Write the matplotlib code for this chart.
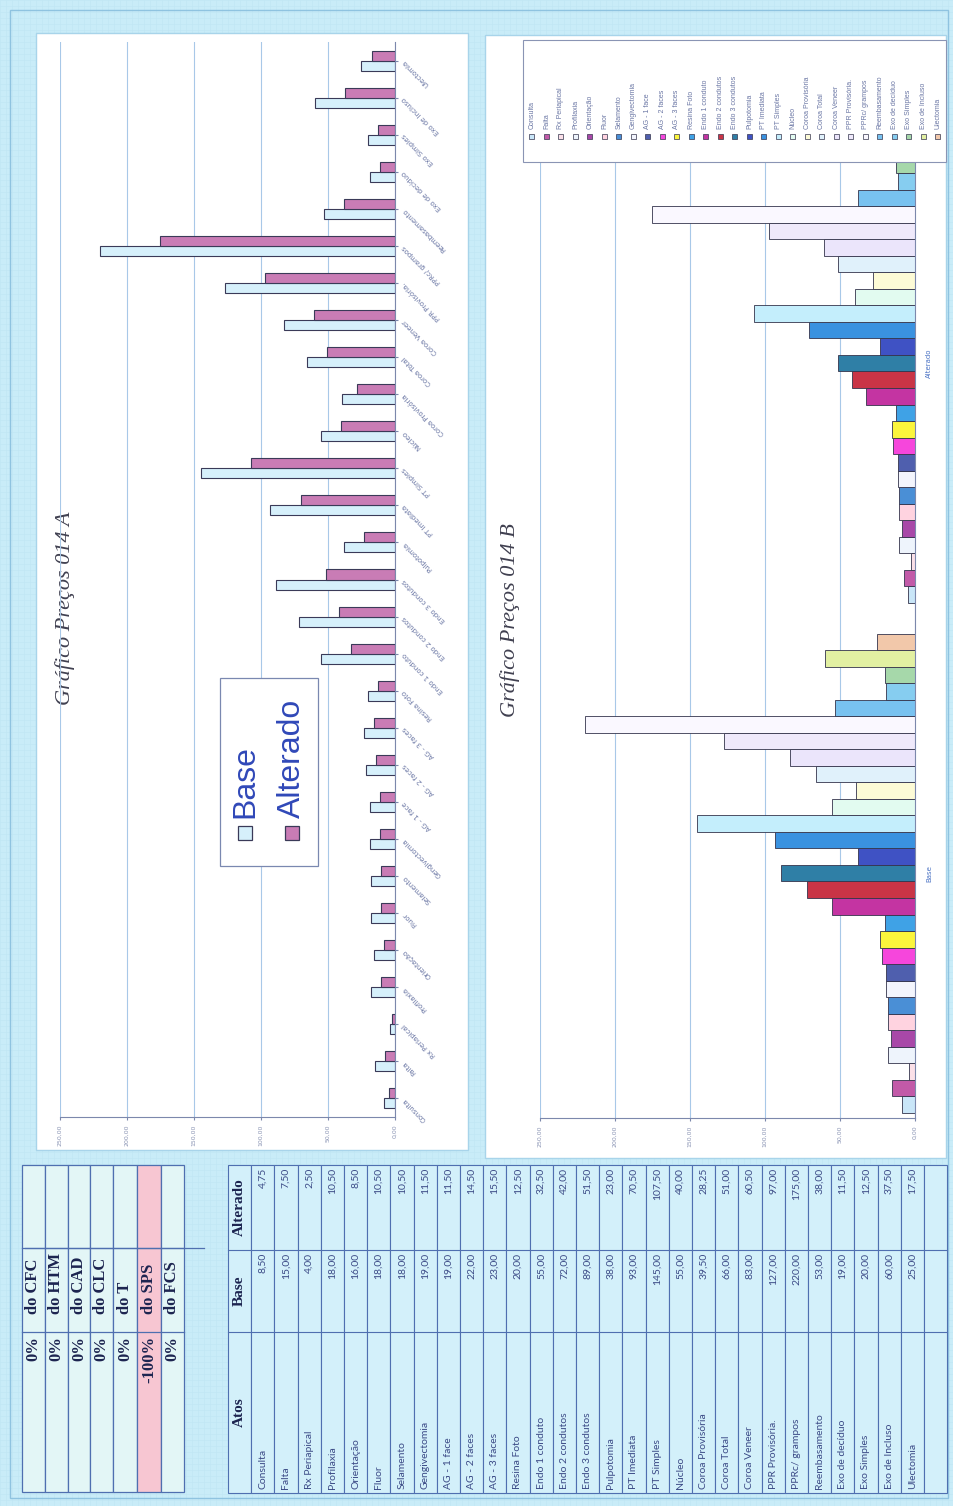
import matplotlib
matplotlib.use('Agg')
import matplotlib.pyplot as plt
from matplotlib.patches import Rectangle
import numpy as np

# dados da tabela
atos = ['Consulta', 'Falta', 'Rx Periapical', 'Profilaxia', 'Orientação', 'Fluor',
        'Selamento', 'Gengivectomia', 'AG - 1 face', 'AG - 2 faces', 'AG - 3 faces',
        'Resina Foto', 'Endo 1 conduto', 'Endo 2 condutos', 'Endo 3 condutos',
        'Pulpotomia', 'PT Imediata', 'PT Simples', 'Núcleo', 'Coroa Provisória',
        'Coroa Total', 'Coroa Veneer', 'PPR Provisória.', 'PPRc/ grampos',
        'Reembasamento', 'Exo de decíduo', 'Exo Simples', 'Exo de Incluso', 'Ulectomia']
base = [8.5, 15, 4, 18, 16, 18, 18, 19, 19, 22, 23, 20, 55, 72, 89, 38, 93, 145,
        55, 39.5, 66, 83, 127, 220, 53, 19, 20, 60, 25]
alterado = [4.75, 7.5, 2.5, 10.5, 8.5, 10.5, 10.5, 11.5, 11.5, 14.5, 15.5, 12.5,
            32.5, 42, 51.5, 23, 70.5, 107.5, 40, 28.25, 51, 60.5, 97, 175, 38,
            11.5, 12.5, 37.5, 17.5]
grupos = ['Base', 'Alterado']
siglas = ['CFC', 'HTM', 'CAD', 'CLC', 'T', 'SPS', 'FCS']
percentuais = ['0%', '0%', '0%', '0%', '0%', '-100%', '0%']
ticks = [0, 50, 100, 150, 200, 250]

# cores das series do grafico B (como aparecem no papel)
cores = ['#c9e6f8', '#c25aa8', '#fbe0e8', '#eef4fc', '#a848a8', '#ffd3e0',
         '#4a8fd6', '#f3f5fd', '#4f5fae', '#f646dc', '#fbf53c', '#3fa2e6',
         '#c434a2', '#c93446', '#2f7fa6', '#3f52c4', '#3a92e0', '#c4eefc',
         '#e2fbf0', '#fdfbd6', '#e0f1fb', '#ebe5fb', '#efe9fb', '#faf8ff',
         '#78c2f0', '#86cdf0', '#a6d8aa', '#e2f0a2', '#f2c8aa']

W, H = 954, 1506
fundo = '#c9ecf8'
azul_txt = '#3b4a86'


def fb(x0, y0, x1, y1):
    return [x0 / W, 1 - y1 / H, (x1 - x0) / W, (y1 - y0) / H]


def br(v):
    return f'{v:.2f}'.replace('.', ',')


fig = plt.figure(figsize=(W / 100, H / 100), dpi=100, facecolor=fundo)

# camada de fundo em pixels
bg = fig.add_axes([0, 0, 1, 1], zorder=0)
bg.set_xlim(0, W)
bg.set_ylim(H, 0)
bg.axis('off')
# textura leve do papel (por baixo de tudo)
for g in np.arange(0, W, 6):
    bg.plot([g, g], [0, H], color='#c0e6f4', lw=0.4, zorder=0.1)
for g in np.arange(0, H, 6):
    bg.plot([0, W], [g, g], color='#c0e6f4', lw=0.4, zorder=0.1)
bg.add_patch(Rectangle((10, 10), 938, 1488, fc='none', ec='#8fc3e0', lw=1, zorder=1))
bg.add_patch(Rectangle((36, 33), 432, 1117, fc='white', ec='#a8d4ea', lw=1, zorder=1))
bg.add_patch(Rectangle((485, 35), 461, 1123, fc='white', ec='#a8d4ea', lw=1, zorder=1))

# titulos
bg.text(65, 608, 'Gráfico Preços 014 A', rotation=90, ha='center', va='center',
        fontsize=16, family='Liberation Serif', style='italic', color='#404050', zorder=2)
bg.text(510, 620, 'Gráfico Preços 014 B', rotation=90, ha='center', va='center',
        fontsize=16, family='Liberation Serif', style='italic', color='#404050', zorder=2)

# tabela de percentuais
lin = [22, 45, 68, 90, 113, 137, 161, 184]
col = [1165, 1248, 1332, 1492]
for k in range(len(siglas)):
    cor = '#f7c6d2' if percentuais[k] == '-100%' else '#e3f6f6'
    bg.add_patch(Rectangle((lin[k], col[0]), lin[k + 1] - lin[k], col[-1] - col[0],
                           fc=cor, ec='#4f6fb0', lw=0.9, zorder=1))
    xc = (lin[k] + lin[k + 1]) / 2
    bg.text(xc, col[2] + 4, percentuais[k], rotation=90, rotation_mode='anchor',
            ha='right', va='center', fontsize=12, family='Liberation Serif',
            weight='bold', color='#1c2450', zorder=3)
    bg.text(xc, col[2] - 18, 'do ' + siglas[k], rotation=90, rotation_mode='anchor',
            ha='left', va='center', fontsize=12, family='Liberation Serif',
            weight='bold', color='#1c2450', zorder=3)
for c in col[1:-1]:
    bg.plot([lin[0], lin[-1]], [c, c], color='#4f6fb0', lw=0.9, zorder=2)
bg.plot([lin[0] + 3, lin[-1] + 20], [1248, 1248], color='#4f6fb0', lw=0.9, zorder=2)

# tabela principal
h = 23.2
x0 = 228
mcol = [1165, 1250, 1332, 1493]
nlin = len(atos) + 2
for r in range(nlin):
    bg.add_patch(Rectangle((x0 + r * h, mcol[0]), h, mcol[-1] - mcol[0],
                           fc='#d3f0fa', ec='#4f6fb0', lw=0.8, zorder=1))
for c in mcol[1:-1]:
    bg.plot([x0, x0 + nlin * h], [c, c], color='#4f6fb0', lw=0.8, zorder=2)
xc = x0 + h / 2
for texto, yc in [('Atos', (mcol[2] + mcol[3]) / 2), ('Base', (mcol[1] + mcol[2]) / 2),
                  ('Alterado', (mcol[0] + mcol[1]) / 2)]:
    bg.text(xc, yc, texto, rotation=90, ha='center', va='center', fontsize=11,
            family='Liberation Serif', weight='bold', color='#1c2450', zorder=3)
for i, nome in enumerate(atos):
    xc = x0 + (i + 1) * h + h / 2
    bg.text(xc, mcol[3] - 4, nome, rotation=90, rotation_mode='anchor', ha='left',
            va='center', fontsize=7.5, family='Lato', color=azul_txt, zorder=3)
    bg.text(xc, mcol[1] + 3, br(base[i]), rotation=90, rotation_mode='anchor',
            ha='right', va='center', fontsize=7.5, family='Lato', color=azul_txt, zorder=3)
    bg.text(xc, mcol[0] + 3, br(alterado[i]), rotation=90, rotation_mode='anchor',
            ha='right', va='center', fontsize=7.5, family='Lato', color=azul_txt, zorder=3)

# ---------- grafico A ----------
ax_a = fig.add_axes(fb(60, 42, 395, 1117), zorder=2)
ax_a.patch.set_alpha(0)
y = np.arange(len(atos))
w = 0.27
ax_a.barh(y - w / 2, base, height=w, color='#d6f0fb', edgecolor='#3a3a58', lw=0.8)
ax_a.barh(y + w / 2, alterado, height=w, color='#c97cb5', edgecolor='#3a3a58', lw=0.8)
ax_a.set_xlim(250, 0)
ax_a.set_ylim(-0.5, len(atos) - 0.5)
ax_a.set_xticks(ticks)
ax_a.set_xticklabels([br(t) for t in ticks], rotation=90, fontsize=4.5, color='#8a94b4')
ax_a.grid(axis='x', color='#a8c8e8', lw=0.8)
ax_a.set_axisbelow(True)
for s in ['top', 'left']:
    ax_a.spines[s].set_visible(False)
for s in ['right', 'bottom']:
    ax_a.spines[s].set_color('#7c88ac')
ax_a.yaxis.tick_right()
ax_a.set_yticks(y)
ax_a.set_yticklabels(atos)
ax_a.tick_params(axis='y', length=2, color='#7c88ac', pad=4)
ax_a.tick_params(axis='x', length=2, color='#7c88ac')
for t in ax_a.get_yticklabels():
    t.set_rotation(135)
    t.set_rotation_mode('anchor')
    t.set_ha('right')
    t.set_va('center')
    t.set_fontsize(5)
    t.set_color('#6a76a4')

# ---------- grafico B ----------
ax_b = fig.add_axes(fb(540, 98, 915, 1118), zorder=2)
ax_b.patch.set_alpha(0)
bw = 0.0324
pos = np.arange(len(grupos))
for i, nome in enumerate(atos):
    ax_b.barh(pos + (i - 14) * bw, [base[i], alterado[i]], height=bw,
              color=cores[i], edgecolor='#34344c', lw=0.6, label=nome)
ax_b.set_xlim(250, 0)
ax_b.set_ylim(-0.48, 1.52)
ax_b.set_xticks(ticks)
ax_b.set_xticklabels([br(t) for t in ticks], rotation=90, fontsize=4.5, color='#8a94b4')
ax_b.grid(axis='x', color='#a8c8e8', lw=0.8)
ax_b.set_axisbelow(True)
for s in ['top', 'left']:
    ax_b.spines[s].set_visible(False)
for s in ['right', 'bottom']:
    ax_b.spines[s].set_color('#7c88ac')
ax_b.yaxis.tick_right()
ax_b.set_yticks(pos)
ax_b.set_yticklabels(grupos, rotation=90, fontsize=5, color='#4a72c4', va='center')
ax_b.tick_params(axis='y', length=0, pad=8)
ax_b.tick_params(axis='x', length=2, color='#7c88ac')

# legendas (camada da frente)
fg = fig.add_axes([0, 0, 1, 1], zorder=5)
fg.set_xlim(0, W)
fg.set_ylim(H, 0)
fg.axis('off')

# legenda A
fg.add_patch(Rectangle((220, 678), 98, 188, fc='white', ec='#7a88b0', lw=0.9))
fg.add_patch(Rectangle((238, 826), 14, 14, fc='#d6f0fb', ec='#3a3a58', lw=0.9))
fg.add_patch(Rectangle((285, 826), 14, 14, fc='#c97cb5', ec='#3a3a58', lw=0.9))
fg.text(245, 818, 'Base', rotation=90, rotation_mode='anchor', ha='left', va='center',
        fontsize=23, family='Liberation Sans', color='#3048b8')
fg.text(292, 818, 'Alterado', rotation=90, rotation_mode='anchor', ha='left', va='center',
        fontsize=23, family='Liberation Sans', color='#3048b8')

# legenda B
fg.add_patch(Rectangle((523, 40), 423, 122, fc='white', ec='#8a94b4', lw=0.8))
for i, nome in enumerate(atos):
    xl = 532 + i * 14.5
    fg.add_patch(Rectangle((xl - 2.5, 134), 5, 5, fc=cores[i], ec='#34344c', lw=0.5))
    fg.text(xl, 129, nome, rotation=90, rotation_mode='anchor', ha='left', va='center',
            fontsize=5, family='Liberation Sans', color='#6a76a4')

fig.savefig('out.png', dpi=100, facecolor=fundo)
